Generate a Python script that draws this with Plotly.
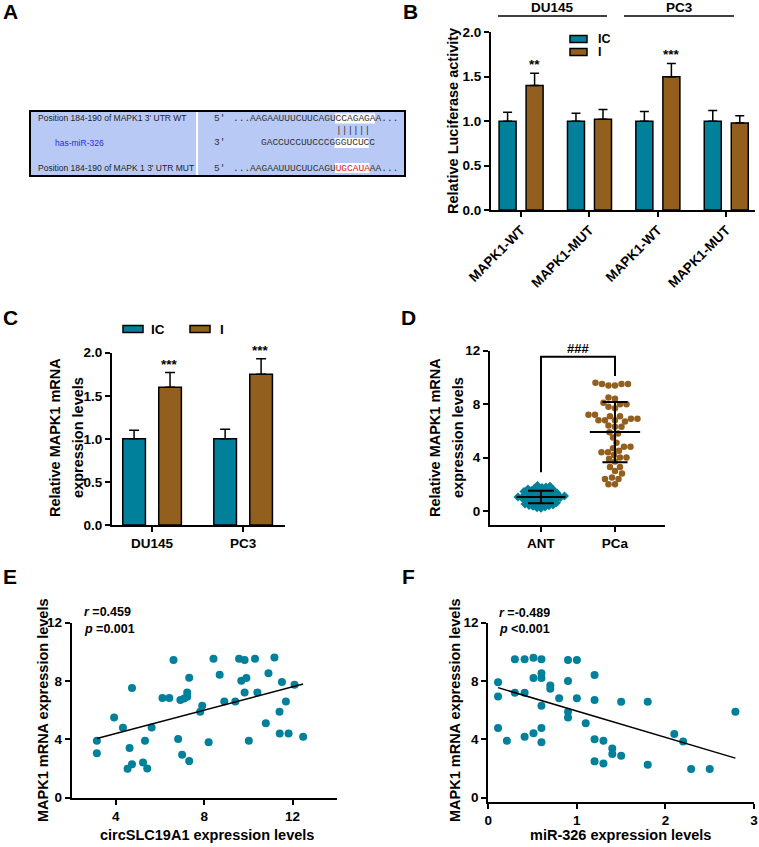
import numpy as np
import plotly.graph_objects as go

W, H = 759, 847
FONT = "Arial, 'Liberation Sans', sans-serif"
MONO = "'Courier New', 'Liberation Mono', monospace"
TEAL = "#00809a"
BROWN = "#935f1f"

# ---------------- data ----------------
# B: luciferase
b_ticks = ["MAPK1-WT", "MAPK1-MUT", "MAPK1-WT", "MAPK1-MUT"]
b_ic = [1.0, 1.0, 1.0, 1.0]
b_ic_err = [0.10, 0.09, 0.11, 0.12]
b_i = [1.40, 1.02, 1.50, 0.98]
b_i_err = [0.14, 0.11, 0.15, 0.08]
b_stars = ["**", "", "***", ""]

# C: MAPK1 mRNA in cell lines
c_cells = ["DU145", "PC3"]
c_ic = [1.0, 1.0]
c_ic_err = [0.10, 0.11]
c_i = [1.60, 1.75]
c_i_err = [0.17, 0.18]
c_stars = ["***", "***"]

# D: tissues
d_groups = ["ANT", "PCa"]
d_ant = [0.2, 0.25, 0.3, 0.35, 0.4, 0.42, 0.45, 0.5, 0.52, 0.55, 0.6, 0.62,
         0.65, 0.7, 0.72, 0.75, 0.8, 0.82, 0.85, 0.9, 0.92, 0.95, 1.0, 1.0,
         1.02, 1.05, 1.1, 1.12, 1.15, 1.2, 1.22, 1.25, 1.3, 1.32, 1.35, 1.4,
         1.42, 1.45, 1.5, 1.52, 1.55, 1.6, 1.62, 1.65, 1.7, 1.75, 1.8, 1.85,
         1.9, 0.97]
d_pca = [9.4, 9.5, 9.4, 9.5, 9.6, 9.5,
         8.5, 8.4, 8.1, 8.0, 8.0, 7.8, 7.7,
         7.2, 7.1, 7.2, 7.1, 6.9, 6.8, 6.8, 6.7, 6.8, 6.9,
         6.4, 6.3, 6.3, 5.9, 5.8, 5.5, 5.1,
         4.8, 4.8, 4.7, 4.4, 4.4, 4.5, 4.2, 4.0, 4.0, 3.9, 3.7,
         3.3, 3.3, 3.0, 2.8, 2.5, 2.4, 2.4, 2.0, 2.0]

# E: circSLC19A1 vs MAPK1
e_x = [3.14, 3.14, 3.92, 4.32, 4.73, 4.62, 4.53, 4.73, 5.23, 5.32, 5.42, 5.62,
       6.11, 6.42, 6.61, 6.82, 6.92, 7.0, 7.09, 7.23, 7.23, 7.32, 7.32, 7.82,
       7.91, 8.2, 8.42, 8.7, 8.91, 9.41, 9.58, 9.68, 9.83, 9.83, 9.91, 10.02,
       10.3, 10.41, 10.79, 10.91, 11.18, 11.41, 11.42, 11.52, 11.7, 11.82,
       12.09, 12.48]
e_y = [3.9, 3.04, 5.5, 4.8, 7.52, 3.4, 1.99, 2.29, 2.42, 3.9, 2.0, 4.82,
       6.83, 6.83, 9.44, 4.02, 6.7, 2.95, 6.8, 7.22, 6.93, 8.23, 2.51, 5.9,
       6.31, 3.8, 9.53, 8.43, 6.6, 6.6, 9.53, 8.02, 9.44, 7.22, 8.2, 3.9,
       9.53, 7.22, 5.1, 8.53, 9.62, 5.9, 4.41, 7.93, 6.6, 4.41, 7.75, 4.18]

# F: miR-326 vs MAPK1
f_x = [0.11, 0.11, 0.11, 0.21, 0.30, 0.30, 0.41, 0.41, 0.41, 0.51, 0.51, 0.51,
       0.60, 0.60, 0.60, 0.60, 0.60, 0.60, 0.70, 0.70, 0.80, 0.90, 0.90, 0.90,
       0.90, 1.0, 1.0, 1.10, 1.20, 1.20, 1.20, 1.20, 1.30, 1.30, 1.40, 1.40,
       1.50, 1.50, 1.80, 1.80, 2.10, 2.20, 2.29, 2.50, 2.79]
f_y = [7.91, 6.93, 4.78, 3.9, 9.5, 7.2, 9.5, 7.2, 4.18, 9.6, 8.2, 4.41,
       9.5, 8.53, 8.2, 6.31, 4.78, 3.8, 7.7, 7.47, 6.81, 9.44, 8.0, 5.9,
       5.5, 9.44, 6.81, 5.1, 8.41, 6.7, 4.0, 2.49, 3.9, 2.35, 3.38, 3.0,
       6.58, 2.88, 6.58, 2.26, 4.37, 3.86, 1.97, 1.97, 5.9]


def X(px):
    return px / W


def Y(py):
    return 1 - py / H


def ax_style(**kw):
    d = dict(showline=True, linecolor="black", linewidth=2, ticks="outside",
             ticklen=5, tickwidth=2, tickcolor="black", showgrid=False,
             zeroline=False, fixedrange=True, automargin=False,
             tickfont=dict(family=FONT, size=13.5, color="black", weight="bold"))
    d.update(kw)
    return d


def swarm(vals, ppu, d, step=0.5):
    # simple beeswarm: offsets in px
    vals = np.asarray(vals, float)
    placed = []
    offs = np.zeros(len(vals))
    cands = sorted(np.arange(-40, 40.01, step), key=lambda c: (abs(c), c))
    for i in np.argsort(vals):
        yp = vals[i] * ppu
        for c in cands:
            if all((c - px) ** 2 + (yp - py) ** 2 >= d * d for px, py in placed):
                break
        placed.append((c, yp))
        offs[i] = c
    return offs


fig = go.Figure()
ann = []
shp = []


def text(x, y, s, size=13.5, bold=True, xa="center", ya="middle", color="black",
         angle=0, fam=FONT, xref="paper", yref="paper"):
    ann.append(dict(x=x, y=y, xref=xref, yref=yref, text=s, showarrow=False,
                    xanchor=xa, yanchor=ya, textangle=angle, borderpad=0,
                    font=dict(family=fam, size=size, color=color,
                              weight="bold" if bold else "normal")))


# ---------------- panel A ----------------
shp.append(dict(type="rect", xref="paper", yref="paper", x0=X(30), x1=X(405),
                y0=Y(176), y1=Y(111), fillcolor="#b9c9f5",
                line=dict(color="black", width=2)))
shp.append(dict(type="line", xref="paper", yref="paper", x0=X(197), x1=X(197),
                y0=Y(175), y1=Y(112), line=dict(color="white", width=2)))
cw = 5.72
seq0 = 232
for (xa, xb, yc) in [(seq0 + 18 * cw, seq0 + 25 * cw, 118.5),
                     (260 + 13 * cw, 260 + 19 * cw, 143),
                     (seq0 + 18 * cw, seq0 + 24 * cw, 168)]:
    shp.append(dict(type="rect", xref="paper", yref="paper", x0=X(xa), x1=X(xb),
                    y0=Y(yc + 5), y1=Y(yc - 5), fillcolor="white",
                    line=dict(width=0)))
text(X(37), Y(118), "Position 184-190 of MAPK1 3' UTR WT", size=8.5, bold=False,
     xa="left", color="#222")
text(X(54), Y(143), "has-miR-326", size=8.5, bold=False, xa="left", color="#2a2ad8")
text(X(37), Y(168), "Position 184-190 of MAPK 1 3' UTR MUT", size=8.5, bold=False,
     xa="left", color="#222")
for yy, lab in [(118, "5'"), (143, "3'"), (168, "5'")]:
    text(X(213), Y(yy), lab, size=9.5, bold=False, xa="left", fam=MONO, color="#333")
text(X(seq0), Y(118), "...AAGAAUUUCUUCAGUCCAGAGAA...", size=9.5, bold=False,
     xa="left", fam=MONO, color="#333")
text(X(seq0 + 18 * cw), Y(130.5), "||||||", size=9.5, bold=False, xa="left",
     fam=MONO, color="#333")
text(X(260), Y(143), "GACCUCCUUCCCGGGUCUCC", size=9.5, bold=False, xa="left",
     fam=MONO, color="#333")
text(X(seq0), Y(168),
     "...AAGAAUUUCUUCAGU<span style='color:#e02020'>UGCAUA</span>AA...",
     size=9.5, bold=False, xa="left", fam=MONO, color="#333")

# ---------------- panel B ----------------
gx = list(range(len(b_ticks)))
fig.add_trace(go.Bar(x=gx, y=b_ic, name="IC", marker=dict(color=TEAL, line=dict(color="black", width=1.5)),
                     error_y=dict(type="data", array=b_ic_err, arrayminus=[0] * 4, symmetric=False,
                                  color="black", thickness=1.5, width=4.5),
                     xaxis="x", yaxis="y", offsetgroup="ic"))
fig.add_trace(go.Bar(x=gx, y=b_i, name="I", marker=dict(color=BROWN, line=dict(color="black", width=1.5)),
                     error_y=dict(type="data", array=b_i_err, arrayminus=[0] * 4, symmetric=False,
                                  color="black", thickness=1.5, width=4.5),
                     xaxis="x", yaxis="y", offsetgroup="i"))
for k, s in enumerate(b_stars):
    if s:
        text(k + 0.198, b_i[k] + b_i_err[k], s, size=13.5, ya="bottom", xref="x", yref="y")

# ---------------- panel C ----------------
cx = list(range(len(c_cells)))
fig.add_trace(go.Bar(x=cx, y=c_ic, name="IC", marker=dict(color=TEAL, line=dict(color="black", width=1.5)),
                     error_y=dict(type="data", array=c_ic_err, arrayminus=[0] * 2, symmetric=False,
                                  color="black", thickness=1.5, width=5),
                     xaxis="x2", yaxis="y2", offsetgroup="ic"))
fig.add_trace(go.Bar(x=cx, y=c_i, name="I", marker=dict(color=BROWN, line=dict(color="black", width=1.5)),
                     error_y=dict(type="data", array=c_i_err, arrayminus=[0] * 2, symmetric=False,
                                  color="black", thickness=1.5, width=5),
                     xaxis="x2", yaxis="y2", offsetgroup="i"))
for k, s in enumerate(c_stars):
    text(k + 0.187, c_i[k] + c_i_err[k], s, size=13.5, ya="bottom", xref="x2", yref="y2")

# ---------------- panel D ----------------
ppu_y = 13.37
ppu_x = 74.0
ant_off = swarm(d_ant, ppu_y, 3.8) / ppu_x
pca_off = swarm(d_pca, ppu_y, 6.3) / ppu_x
fig.add_trace(go.Scatter(x=0 + ant_off, y=d_ant, mode="markers",
                         marker=dict(symbol="diamond", size=7, color=TEAL),
                         xaxis="x3", yaxis="y3"))
fig.add_trace(go.Scatter(x=1 + pca_off, y=d_pca, mode="markers",
                         marker=dict(symbol="circle", size=6.5, color=BROWN),
                         xaxis="x3", yaxis="y3"))
lx, ly = [], []
for c, vals, half, cap in [(0, d_ant, 0.33, 0.175), (1, d_pca, 0.34, 0.17)]:
    m, sd = np.mean(vals), np.std(vals, ddof=1)
    lx += [c - half, c + half, None, c, c, None, c - cap, c + cap, None, c - cap, c + cap, None]
    ly += [m, m, None, m - sd, m + sd, None, m - sd, m - sd, None, m + sd, m + sd, None]
fig.add_trace(go.Scatter(x=lx, y=ly, mode="lines", line=dict(color="black", width=2),
                         xaxis="x3", yaxis="y3"))
shp.append(dict(type="path", xref="x3", yref="y3", path="M 0,2.9 L 0,11.55 L 1,11.55 L 1,10.1",
                line=dict(color="black", width=2)))
text(0.5, 11.55, "###", size=13, ya="bottom", xref="x3", yref="y3")

# ---------------- panel E ----------------
fig.add_trace(go.Scatter(x=e_x, y=e_y, mode="markers", marker=dict(size=8, color=TEAL),
                         xaxis="x4", yaxis="y4"))
pe = np.polyfit(e_x, e_y, 1)
xe = np.array([min(e_x), max(e_x)])
fig.add_trace(go.Scatter(x=xe, y=np.polyval(pe, xe), mode="lines",
                         line=dict(color="black", width=1.5), xaxis="x4", yaxis="y4"))

# ---------------- panel F ----------------
fig.add_trace(go.Scatter(x=f_x, y=f_y, mode="markers", marker=dict(size=8, color=TEAL),
                         xaxis="x5", yaxis="y5"))
pf = np.polyfit(f_x, f_y, 1)
xf = np.array([min(f_x), max(f_x)])
fig.add_trace(go.Scatter(x=xf, y=np.polyval(pf, xf), mode="lines",
                         line=dict(color="black", width=1.5), xaxis="x5", yaxis="y5"))

# ---------------- legends / labels ----------------
for (x0, y0, col, lab) in [(570, 35.5, TEAL, "IC"), (570, 48.5, BROWN, "I")]:
    shp.append(dict(type="rect", xref="paper", yref="paper", x0=X(x0), x1=X(x0 + 17),
                    y0=Y(y0 + 7), y1=Y(y0), fillcolor=col, line=dict(color="black", width=1.5)))
    text(X(597), Y(y0 + 3.5), lab, size=12.5, xa="left")
for (x0, col, lab, tx) in [(123, TEAL, "IC", 150), (190, BROWN, "I", 219)]:
    shp.append(dict(type="rect", xref="paper", yref="paper", x0=X(x0), x1=X(x0 + 20),
                    y0=Y(332.5), y1=Y(325.5), fillcolor=col, line=dict(color="black", width=1.5)))
    text(X(tx), Y(329), lab, size=13.5, xa="left")

# top group lines in B
for (x0, x1, lab) in [(498, 607, "DU145"), (624, 734, "PC3")]:
    shp.append(dict(type="line", xref="paper", yref="paper", x0=X(x0), x1=X(x1),
                    y0=Y(16), y1=Y(16), line=dict(color="black", width=1.5)))
    text(X((x0 + x1) / 2), Y(8), lab, size=13.5)

# panel letters
for (px, py, lab) in [(10, 12, "A"), (410, 12, "B"), (10, 318, "C"), (409, 318, "D"),
                      (10, 576, "E"), (409, 576, "F")]:
    text(X(px), Y(py), lab, size=21)

# axis titles
text(X(453), Y(121), "Relative Luciferase activity", size=14.5, angle=-90)
text(X(55), Y(438), "Relative MAPK1 mRNA", size=14.5, angle=-90)
text(X(78), Y(438), "expression levels", size=14.5, angle=-90)
text(X(435), Y(438), "Relative MAPK1 mRNA", size=14.5, angle=-90)
text(X(458), Y(438), "expression levels", size=14.5, angle=-90)
text(X(43), Y(710), "MAPK1 mRNA expression levels", size=14.5, angle=-90)
text(X(455), Y(710), "MAPK1 mRNA expression levels", size=14.5, angle=-90)
text(X(207), Y(835), "circSLC19A1 expression levels", size=14.5)
text(X(620), Y(835), "miR-326 expression levels", size=14.5)

# stats
text(X(83), Y(612), "<i>r</i> =0.459", size=12.5, xa="left")
text(X(83), Y(629), "<i>p</i> =0.001", size=12.5, xa="left")
text(X(498), Y(613), "<i>r</i> =-0.489", size=12.5, xa="left")
text(X(498), Y(629), "<i>p</i> <0.001", size=12.5, xa="left")

fig.update_layout(
    width=W, height=H, margin=dict(l=0, r=0, t=0, b=0, autoexpand=False),
    paper_bgcolor="white", plot_bgcolor="white", showlegend=False,
    barmode="group",
    xaxis=ax_style(domain=[X(491), X(755)], range=[-0.44, 3.42], tickvals=gx,
                   ticktext=b_ticks, tickangle=-45, anchor="y"),
    yaxis=ax_style(domain=[Y(210), Y(32.3)], range=[0, 2.0], tickvals=[0, 0.5, 1, 1.5, 2],
                   tickformat=".1f", anchor="x"),
    xaxis2=ax_style(domain=[X(112), X(285)], range=[-0.44, 1.46], tickvals=cx,
                    ticktext=c_cells, anchor="y2"),
    yaxis2=ax_style(domain=[Y(525), Y(352.7)], range=[0, 2.0], tickvals=[0, 0.5, 1, 1.5, 2],
                    tickformat=".1f", anchor="x2"),
    xaxis3=ax_style(domain=[X(490), X(665)], range=[-0.689, 1.676], tickvals=[0, 1],
                    ticktext=d_groups, anchor="y3"),
    yaxis3=ax_style(domain=[Y(525), Y(350.7)], range=[-1.05, 12], tickvals=[0, 4, 8, 12],
                    anchor="x3"),
    xaxis4=ax_style(domain=[X(71.7), X(336.7)], range=[2, 14], tickvals=[4, 8, 12], anchor="y4"),
    yaxis4=ax_style(domain=[Y(797.7), Y(622.7)], range=[0, 12], tickvals=[0, 4, 8, 12], anchor="x4"),
    xaxis5=ax_style(domain=[X(488.3), X(754)], range=[0, 3], tickvals=[0, 1, 2, 3], anchor="y5"),
    yaxis5=ax_style(domain=[Y(801.6), Y(622.7)], range=[-0.27, 12], tickvals=[0, 4, 8, 12],
                    anchor="x5"),
    annotations=ann, shapes=shp,
)
fig.update_layout(bargap=0.21, bargroupgap=0.37)
# drop the default 8px page margin so the figure sits at the window corner
fig.write_html("out.html", config={"displayModeBar": False},
               post_script="document.body.style.margin='0';document.body.style.overflow='hidden';")
